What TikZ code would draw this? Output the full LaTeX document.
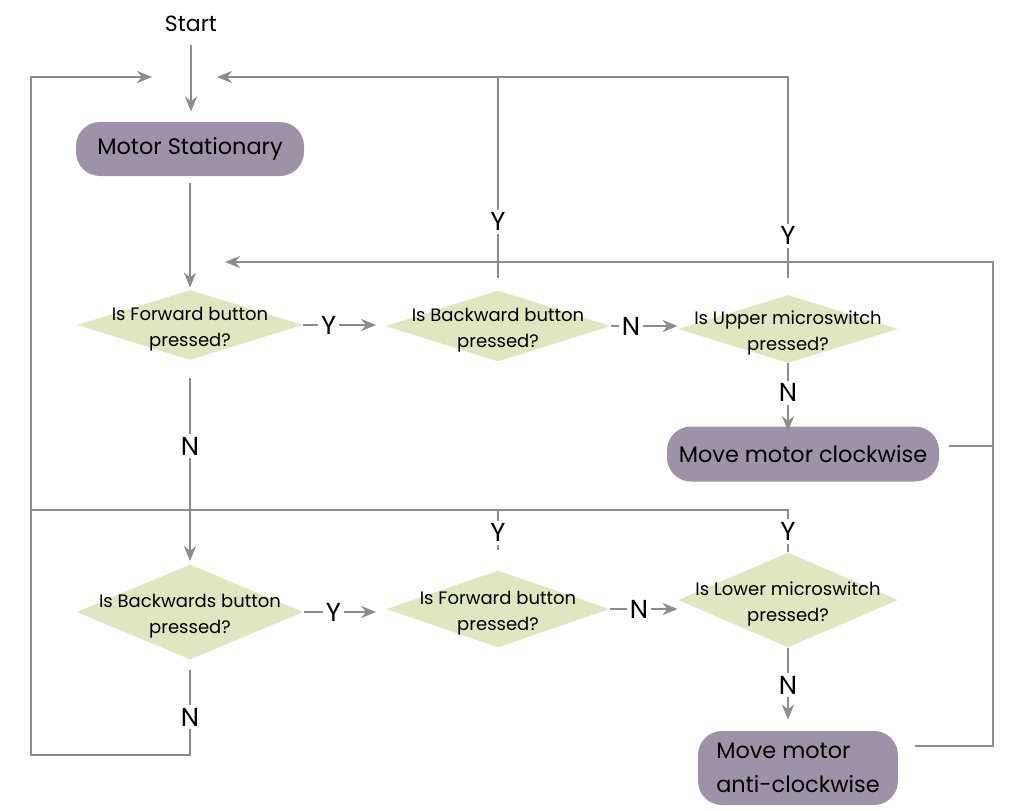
\documentclass[tikz,border=0pt]{standalone}
\usepackage{fontspec}
\setmainfont{Poppins}
\usetikzlibrary{shapes.geometric,arrows.meta,positioning}
\definecolor{motorpurple}{HTML}{9E92A8}
\definecolor{askgreen}{HTML}{DEE7BF}
\definecolor{flowgray}{HTML}{8C8C8C}

\begin{document}
\begin{tikzpicture}[x=0.5pt, y=-0.5pt,
    state/.style    = {rectangle, rounded corners=12pt, fill=motorpurple,
                       font=\fontsize{11.2}{17}\selectfont, inner sep=0pt},
    decision/.style = {diamond, fill=askgreen, inner sep=0pt},
    asktext/.style  = {align=center, inner sep=0pt, yshift=-2pt,
                       font=\fontsize{9}{13}\selectfont},
    yn/.style       = {fill=white, inner sep=1.5pt, font=\fontsize{13}{13}\selectfont},
    flow/.style     = {draw=flowgray, line width=1.25pt},
    arrow/.style    = {flow, -{Stealth[length=7.5pt, width=6pt]}},
]
  \useasboundingbox (0,0) rectangle (1017,810);

  \node[font=\fontsize{11}{11}\selectfont] (start) at (191,24) {Start};
  \node[state, minimum width=114pt, minimum height=27pt] (still) at (190,149) {Motor Stationary};

  % upper row
  \node[decision, minimum width=113pt, minimum height=35pt,
        label={[asktext]center:Is Forward button\\pressed?}] (fwd) at (190,325) {};
  \node[decision, minimum width=112.5pt, minimum height=35.5pt,
        label={[asktext]center:Is Backward button\\pressed?}] (bwd) at (498,326) {};
  \node[decision, minimum width=110pt, minimum height=34pt,
        label={[asktext]center:Is Upper microswitch\\pressed?}] (upper) at (788,329) {};
  \node[state, minimum width=136pt, minimum height=27.5pt] (cw) at (803,454) {Move motor clockwise};

  % lower row
  \node[decision, minimum width=113.5pt, minimum height=47.5pt,
        label={[asktext]center:Is Backwards button\\pressed?}] (back) at (190,612) {};
  \node[decision, minimum width=111.5pt, minimum height=38.5pt,
        label={[asktext]center:Is Forward button\\pressed?}] (fwdb) at (498,609) {};
  \node[decision, minimum width=110pt, minimum height=47.5pt,
        label={[asktext]center:Is Lower microswitch\\pressed?}] (lower) at (788,600) {};
  \node[state, align=left, minimum width=100pt, minimum height=37pt] (acw) at (798,768)
       {Move motor\\anti-clockwise};

  % loop corners
  \coordinate (inL)  at (152,77);
  \coordinate (inR)  at (217,77);
  \coordinate (nw)   at (31,77);
  \coordinate (sw)   at (31,755);
  \coordinate (midW) at (31,510);
  \coordinate (inF)  at (225,262);
  \coordinate (busR) at (993,262);

  % main line
  \draw[arrow, shorten <=3pt, shorten >=5pt] (start) -- (start |- still.north);
  \draw[arrow, shorten <=3.5pt, shorten >=1pt] (still) -- (fwd);
  \draw[arrow, shorten >=4.5pt] (fwd.east) -- node[yn, pos=0.31]{Y} (fwd.east -| bwd.west);
  \draw[arrow] (bwd.east) -- node[yn, pos=0.3]{N} (bwd.east -| upper.west);
  \draw[arrow, shorten >=-2.5pt] (upper.south) -- node[yn, pos=0.47]{N} (upper.south |- cw.north);
  \draw[arrow, shorten <=9pt, shorten >=1.5pt] (fwd.south) -- node[yn, pos=0.42]{N} (back.north);
  \draw[arrow, shorten >=5pt] (back.east) -- node[yn, pos=0.36]{Y} (back.east -| fwdb.west);
  \draw[arrow] (fwdb.east) -- node[yn, pos=0.43]{N} (fwdb.east -| lower.west);
  \draw[arrow, shorten >=5.5pt] (lower.south) -- node[yn, pos=0.45]{N} (lower.south |- acw.north);

  % back to the start
  \draw[arrow, shorten <=5pt] (back.south) -- node[yn, pos=0.6]{N} (back.south |- sw)
      -- (sw) -- (nw) -- (inL);
  \draw[flow, shorten <=6pt] (bwd.north) -- node[yn, pos=0.32]{Y} (bwd.north |- inR);
  \draw[arrow, shorten <=8.5pt] (upper.north) -- node[yn, pos=0.27]{Y} (upper.north |- inR) -- (inR);
  \draw[flow, shorten <=10pt] (fwdb.north) -- node[yn, pos=0.62]{Y} (fwdb.north |- midW);
  \draw[flow] (lower.north) -- node[yn, pos=0.49]{Y} (lower.north |- midW) -- (midW);

  % back to the forward test
  \draw[arrow, shorten <=5pt] ([yshift=4pt]cw.east) -- ([yshift=4pt]cw.east -| busR) -- (busR) -- (inF);
  \draw[flow, shorten <=8.5pt] ([yshift=11pt]acw.east) -| ([yshift=4pt]cw.east -| busR);

\end{tikzpicture}
\end{document}
